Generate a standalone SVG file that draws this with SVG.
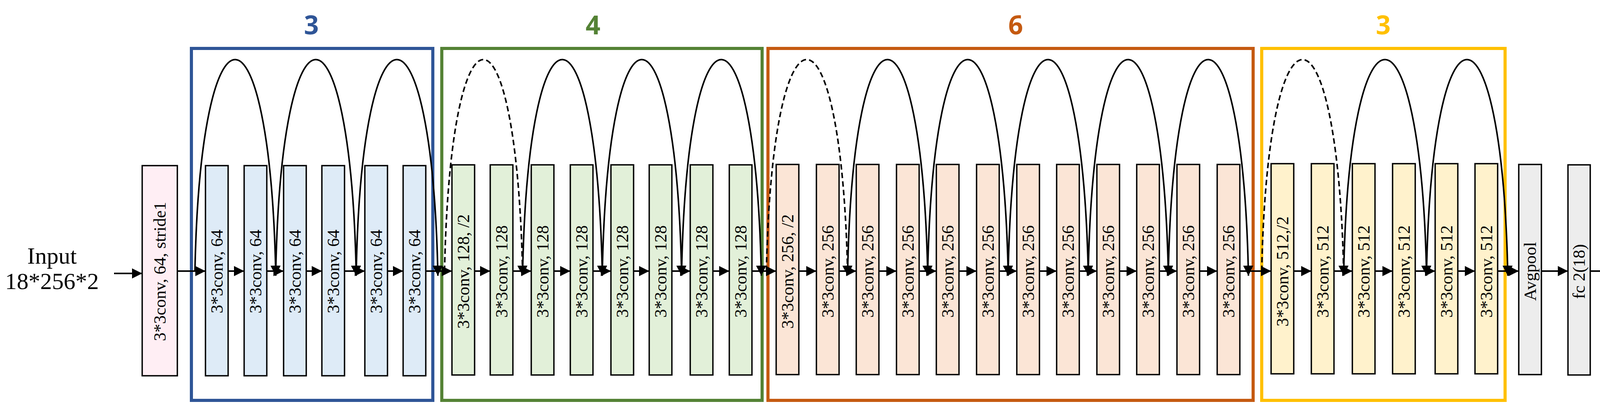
<svg xmlns="http://www.w3.org/2000/svg" width="4336" height="1065" viewBox="0 0 4336 1065">
<style>
.b{stroke:#000;stroke-width:3.5}
.pk{fill:#FFEEF4}.bl{fill:#DEEBF7}.gr{fill:#E2F0D9}.or{fill:#FBE5D6}.ye{fill:#FFF2CC}.gy{fill:#EDEDED}
.t{font-family:"Liberation Serif","Times New Roman",serif;font-size:44px;text-anchor:middle}
.io{font-family:"Liberation Serif","Times New Roman",serif;font-size:60px;text-anchor:middle}
.h{font-family:"Open Sans","Liberation Sans",sans-serif;font-weight:bold;font-size:66px;text-anchor:middle}
.fr{fill:none;stroke-width:8}
.c{fill:none;stroke:#000;stroke-width:4}
.d{stroke-dasharray:14 8}
</style>
<defs>
<marker id="a" markerUnits="userSpaceOnUse" markerWidth="28" markerHeight="28" refX="26" refY="13" orient="auto"><path d="M0,0L26,13L0,26z" fill="#000"/></marker>
</defs>
<g id="frames">
<rect class="fr" x="490" y="124" width="618" height="901" stroke="#2F5597"/>
<rect class="fr" x="1131" y="124" width="820" height="901" stroke="#548235"/>
<rect class="fr" x="1966" y="124" width="1242" height="901" stroke="#C55A11"/>
<rect class="fr" x="3230" y="124" width="623" height="901" stroke="#FFC000"/>
<text class="h" x="797" y="88" fill="#2F5597">3</text>
<text class="h" x="1518" y="88" fill="#548235">4</text>
<text class="h" x="2600" y="88" fill="#C55A11">6</text>
<text class="h" x="3541" y="88" fill="#FFC000">3</text>
</g>
<g id="input"><text class="io" x="133" y="675">Input</text><text class="io" x="133" y="740">18*256*2</text></g>
<g id="output"><text class="io" x="4237" y="675">Output</text><text class="io" x="4237" y="740">2/18</text></g>
<g id="stem"><rect class="b pk" x="364" y="424" width="90" height="538"/><text class="t" transform="translate(409,695) rotate(-90)" dy="0.35em">3*3conv, 64, stride1</text></g>
<g id="blue">
<rect class="b bl" x="526" y="424" width="58" height="538"/><text class="t" transform="translate(555,695) rotate(-90)" dy="0.35em">3*3conv, 64</text>
<rect class="b bl" x="625" y="424" width="58" height="538"/><text class="t" transform="translate(654,695) rotate(-90)" dy="0.35em">3*3conv, 64</text>
<rect class="b bl" x="726" y="424" width="58" height="538"/><text class="t" transform="translate(755,695) rotate(-90)" dy="0.35em">3*3conv, 64</text>
<rect class="b bl" x="824" y="424" width="58" height="538"/><text class="t" transform="translate(853,695) rotate(-90)" dy="0.35em">3*3conv, 64</text>
<rect class="b bl" x="934" y="424" width="58" height="538"/><text class="t" transform="translate(963,695) rotate(-90)" dy="0.35em">3*3conv, 64</text>
<rect class="b bl" x="1032" y="424" width="58" height="538"/><text class="t" transform="translate(1061,695) rotate(-90)" dy="0.35em">3*3conv, 64</text>
</g>
<g id="green">
<rect class="b gr" x="1157" y="422" width="58" height="538"/><text class="t" transform="translate(1186,695) rotate(-90)" dy="0.35em">3*3conv, 128, /2</text>
<rect class="b gr" x="1255" y="422" width="58" height="538"/><text class="t" transform="translate(1284,695) rotate(-90)" dy="0.35em">3*3conv, 128</text>
<rect class="b gr" x="1360" y="422" width="58" height="538"/><text class="t" transform="translate(1389,695) rotate(-90)" dy="0.35em">3*3conv, 128</text>
<rect class="b gr" x="1460" y="422" width="58" height="538"/><text class="t" transform="translate(1489,695) rotate(-90)" dy="0.35em">3*3conv, 128</text>
<rect class="b gr" x="1564" y="422" width="58" height="538"/><text class="t" transform="translate(1593,695) rotate(-90)" dy="0.35em">3*3conv, 128</text>
<rect class="b gr" x="1662" y="422" width="58" height="538"/><text class="t" transform="translate(1691,695) rotate(-90)" dy="0.35em">3*3conv, 128</text>
<rect class="b gr" x="1767" y="422" width="58" height="538"/><text class="t" transform="translate(1796,695) rotate(-90)" dy="0.35em">3*3conv, 128</text>
<rect class="b gr" x="1867" y="422" width="58" height="538"/><text class="t" transform="translate(1896,695) rotate(-90)" dy="0.35em">3*3conv, 128</text>
</g>
<g id="orange">
<rect class="b or" x="1987" y="421" width="58" height="538"/><text class="t" transform="translate(2016,695) rotate(-90)" dy="0.35em">3*3conv, 256, /2</text>
<rect class="b or" x="2090" y="421" width="58" height="538"/><text class="t" transform="translate(2119,695) rotate(-90)" dy="0.35em">3*3conv, 256</text>
<rect class="b or" x="2192" y="421" width="58" height="538"/><text class="t" transform="translate(2221,695) rotate(-90)" dy="0.35em">3*3conv, 256</text>
<rect class="b or" x="2295" y="421" width="58" height="538"/><text class="t" transform="translate(2324,695) rotate(-90)" dy="0.35em">3*3conv, 256</text>
<rect class="b or" x="2397" y="421" width="58" height="538"/><text class="t" transform="translate(2426,695) rotate(-90)" dy="0.35em">3*3conv, 256</text>
<rect class="b or" x="2500" y="421" width="58" height="538"/><text class="t" transform="translate(2529,695) rotate(-90)" dy="0.35em">3*3conv, 256</text>
<rect class="b or" x="2603" y="421" width="58" height="538"/><text class="t" transform="translate(2632,695) rotate(-90)" dy="0.35em">3*3conv, 256</text>
<rect class="b or" x="2705" y="421" width="58" height="538"/><text class="t" transform="translate(2734,695) rotate(-90)" dy="0.35em">3*3conv, 256</text>
<rect class="b or" x="2808" y="421" width="58" height="538"/><text class="t" transform="translate(2837,695) rotate(-90)" dy="0.35em">3*3conv, 256</text>
<rect class="b or" x="2910" y="421" width="58" height="538"/><text class="t" transform="translate(2939,695) rotate(-90)" dy="0.35em">3*3conv, 256</text>
<rect class="b or" x="3013" y="421" width="58" height="538"/><text class="t" transform="translate(3042,695) rotate(-90)" dy="0.35em">3*3conv, 256</text>
<rect class="b or" x="3116" y="421" width="58" height="538"/><text class="t" transform="translate(3145,695) rotate(-90)" dy="0.35em">3*3conv, 256</text>
</g>
<g id="yellow">
<rect class="b ye" x="3254" y="419" width="58" height="538"/><text class="t" transform="translate(3283,695) rotate(-90)" dy="0.35em">3*3conv, 512,/2</text>
<rect class="b ye" x="3357" y="419" width="58" height="538"/><text class="t" transform="translate(3386,695) rotate(-90)" dy="0.35em">3*3conv, 512</text>
<rect class="b ye" x="3462" y="419" width="58" height="538"/><text class="t" transform="translate(3491,695) rotate(-90)" dy="0.35em">3*3conv, 512</text>
<rect class="b ye" x="3565" y="419" width="58" height="538"/><text class="t" transform="translate(3594,695) rotate(-90)" dy="0.35em">3*3conv, 512</text>
<rect class="b ye" x="3674" y="419" width="58" height="538"/><text class="t" transform="translate(3703,695) rotate(-90)" dy="0.35em">3*3conv, 512</text>
<rect class="b ye" x="3776" y="419" width="58" height="538"/><text class="t" transform="translate(3805,695) rotate(-90)" dy="0.35em">3*3conv, 512</text>
</g>
<g id="avgpool"><rect class="b gy" x="3888" y="421" width="58" height="538"/><text class="t" transform="translate(3917,695) rotate(-90)" dy="0.35em">Avgpool</text></g>
<g id="fc"><rect class="b gy" x="4014" y="422" width="57" height="538"/><text class="t" transform="translate(4042,695) rotate(-90)" dy="0.35em">fc 2(18)</text></g>
<g id="connectors" marker-end="url(#a)">
<path class="c" d="M292,700H364"/>
<path class="c" d="M454,694H526"/><path class="c" d="M584,694H625"/><path class="c" d="M683,694H726"/><path class="c" d="M784,694H824"/><path class="c" d="M882,694H934"/><path class="c" d="M992,694H1032"/><path class="c" d="M1090,694H1157"/>
<path class="c" d="M1215,694H1255"/><path class="c" d="M1313,694H1360"/><path class="c" d="M1418,694H1460"/><path class="c" d="M1518,694H1564"/><path class="c" d="M1622,694H1662"/><path class="c" d="M1720,694H1767"/><path class="c" d="M1825,694H1867"/><path class="c" d="M1925,694H1987"/>
<path class="c" d="M2045,694H2090"/><path class="c" d="M2148,694H2192"/><path class="c" d="M2250,694H2295"/><path class="c" d="M2353,694H2397"/><path class="c" d="M2455,694H2500"/><path class="c" d="M2558,694H2603"/><path class="c" d="M2661,694H2705"/><path class="c" d="M2763,694H2808"/><path class="c" d="M2866,694H2910"/><path class="c" d="M2968,694H3013"/><path class="c" d="M3071,694H3116"/><path class="c" d="M3174,694H3254"/>
<path class="c" d="M3312,694H3357"/><path class="c" d="M3415,694H3462"/><path class="c" d="M3520,694H3565"/><path class="c" d="M3623,694H3674"/><path class="c" d="M3732,694H3776"/><path class="c" d="M3834,694H3888"/>
<path class="c" d="M3946,694H4014"/><path class="c" d="M4071,694H4140"/>
<path class="c" d="M499,694C514,-30 691,-30 706,706"/>
<path class="c" d="M706,694C721,-30 897,-30 912,706"/>
<path class="c" d="M912,694C927,-30 1106,-30 1121,706"/>
<path class="c d" d="M1138,694C1153,-30 1323,-30 1338,706"/>
<path class="c" d="M1338,694C1353,-30 1527,-30 1542,706"/>
<path class="c" d="M1542,694C1557,-30 1730,-30 1745,706"/>
<path class="c" d="M1745,694C1760,-30 1934,-30 1949,706"/>
<path class="c d" d="M1962,694C1977,-30 2155,-30 2170,706"/>
<path class="c" d="M2170,694C2185,-30 2360,-30 2375,706"/>
<path class="c" d="M2375,694C2390,-30 2566,-30 2581,706"/>
<path class="c" d="M2581,694C2596,-30 2771,-30 2786,706"/>
<path class="c" d="M2786,694C2801,-30 2976,-30 2991,706"/>
<path class="c" d="M2991,694C3006,-30 3181,-30 3196,706"/>
<path class="c d" d="M3230,694C3245,-30 3425,-30 3440,706"/>
<path class="c" d="M3440,694C3455,-30 3637,-30 3652,706"/>
<path class="c" d="M3652,694C3667,-30 3845,-30 3860,706"/>
</g>
</svg>
